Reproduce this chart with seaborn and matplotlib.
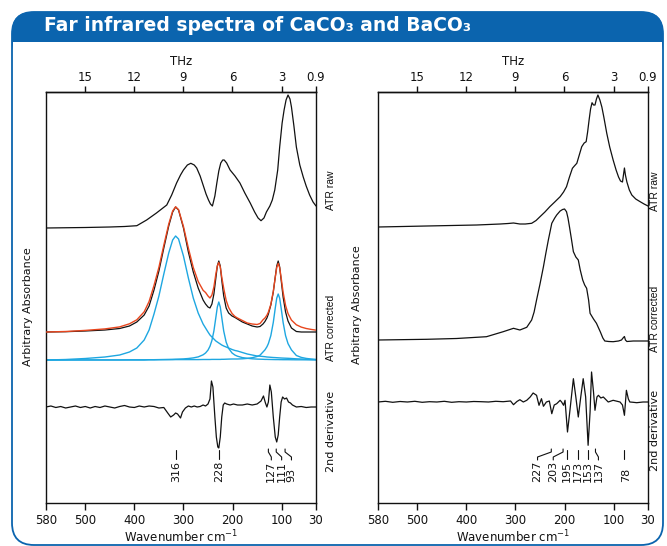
import numpy as np
import matplotlib
matplotlib.use("Agg")
import matplotlib.pyplot as plt
from matplotlib.patches import FancyBboxPatch, Rectangle
import seaborn as sns

# ------------------------------------------------------------------
# Data (heights in arbitrary absorbance units)
# ------------------------------------------------------------------
WN_TICKS = [580, 500, 400, 300, 200, 100, 30]
THZ_TICKS = [15, 12, 9, 6, 3, 0.9]
THZ_LABELS = ["15", "12", "9", "6", "3", "0.9"]

# CaCO3 -- ATR raw
wn_raw_ca = [580, 500, 450, 420, 395, 375, 355, 334, 324, 314, 306, 300, 292, 285, 278, 273, 266, 260, 254, 249,
             245, 241, 236, 232, 228, 224, 220, 217, 212, 205, 195, 185, 175, 164, 155, 148, 142, 136, 131, 124,
             119, 114, 108, 104, 99, 95, 91, 87, 83, 80, 75, 70, 63, 56, 50, 43, 36, 30]
raw_ca = [0, 0.5, 1, 1.5, 2.3, 8, 15, 23, 33, 45, 53, 58, 63, 64.7, 63, 60, 52, 43, 34, 28,
          24, 22, 32, 45, 57, 65, 68, 68, 65, 58, 52, 45, 35, 25, 16, 10, 7.3, 10, 16, 22,
          28, 38, 58, 81, 105, 118, 128, 133, 129, 121, 102, 81, 63, 51, 42, 33, 26, 22]

# CaCO3 -- ATR corrected, fit and fitted components
wn_cor_ca = [580, 540, 500, 460, 430, 410, 395, 380, 370, 360, 350, 340, 330, 322, 316, 310, 300, 290, 280, 270,
             260, 255, 250, 246, 242, 238, 234, 231, 228, 225, 222, 218, 213, 208, 201, 195, 190, 180, 170, 160,
             150, 144, 138, 134, 130, 127, 122, 117, 113, 110, 107, 104, 101, 97, 92, 87, 80, 70, 60, 50,
             40, 30]
cor_ca = [0, 0.3, 1, 2, 3.5, 6, 10, 17, 26, 42, 61, 84, 106, 120, 125, 122, 104, 80, 60, 44,
          32, 28, 25, 24, 28, 38, 54, 66, 71, 66, 52, 36, 24, 19, 16, 14.5, 13, 10, 8, 6,
          5, 5.5, 8, 10.5, 14, 18, 27, 40, 55, 66, 71, 65, 52, 35, 20, 11, 4, 0.5, 0, 0,
          0, 0]
fit_ca = [0, 0.5, 1.6, 3.1, 5.1, 8.2, 12.2, 20.2, 30.5, 46.5, 64.7, 86.8, 107.9, 121, 125.2, 122.3, 105.5, 83.9, 64.5, 50.5,
          41.7, 39.5, 36, 34, 37, 45, 58, 66, 69.5, 65, 55, 43.7, 31.6, 24.5, 18.5, 15.5, 14, 11.5, 9, 8,
          7.5, 8.5, 12.2, 14, 16.8, 19.9, 27.6, 40.6, 54.7, 64.5, 68.6, 64.3, 54.2, 39.8, 26.5, 18.4, 11.9, 7.2, 4.9, 3.5,
          2.6, 1.85]
comp316 = [0, 0.5, 1.5, 3, 5, 8, 12, 20, 30, 46, 64, 86, 107, 120, 124, 121, 104, 82, 62, 47,
           36, 32, 28, 25, 23, 21, 19, 18, 17, 16, 15, 14, 13, 12, 10.5, 9.5, 9, 7.5, 6, 5,
           4, 3.8, 3.5, 3.3, 3, 2.9, 2.7, 2.5, 2.4, 2.3, 2.2, 2.1, 2, 1.9, 1.8, 1.7, 1.5, 1.2, 1, 0.7,
           0.5, 0.3]
comp228 = [0, 0, 0, 0, 0, 0, 0, 0, 0.3, 0.3, 0.4, 0.5, 0.6, 0.7, 0.8, 0.9, 1.1, 1.5, 2.1, 3.1,
           5.2, 7.0, 9.9, 13.7, 19.6, 29, 42.6, 53, 58, 53, 42.6, 29, 17.8, 11.6, 7.0, 4.9, 3.8, 2.4, 1.7, 1.2,
           0.9, 0.8, 0.7, 0.6, 0.6, 0.55, 0.5, 0.45, 0.4, 0.4, 0.4, 0.35, 0.35, 0.3, 0.3, 0.3, 0.25, 0.2, 0.2, 0.15,
           0.15, 0.1]
comp107 = [0, 0.05, 0.1, 0.1, 0.1, 0.2, 0.2, 0.2, 0.2, 0.2, 0.3, 0.3, 0.3, 0.3, 0.4, 0.4, 0.4, 0.4, 0.4, 0.4,
           0.5, 0.5, 0.5, 0.5, 0.6, 0.6, 0.6, 0.6, 0.6, 0.6, 0.7, 0.7, 0.8, 0.9, 1.0, 1.0, 1.0, 1.2, 1.6, 2.3,
           3.5, 4.8, 8.0, 10.1, 13.2, 16.4, 24.4, 37.6, 51.9, 61.8, 66, 61.8, 51.9, 37.6, 24.4, 16.4, 10.1, 4.5, 2.6, 1.6,
           1.0, 0.6]

# CaCO3 -- 2nd derivative
wn_der_ca = [580, 570, 560, 550, 540, 530, 520, 510, 500, 490, 480, 470, 460, 450, 440, 430, 420, 410, 400, 390,
             380, 370, 360, 350, 340, 332, 326, 320, 316, 312, 306, 302, 296, 290, 284, 278, 272, 266, 260, 255,
             250, 246, 243, 240, 236, 233, 230, 228, 225, 222, 219, 216, 212, 205, 198, 190, 180, 170, 160, 150,
             142, 137, 133, 130, 127, 124, 121, 117, 113, 110, 107, 104, 101, 98, 94, 90, 86, 82, 78, 74,
             70, 60, 50, 40, 30]
der_ca = [0, 1, -0.5, 0.5, -1, 0, 1, -0.5, 0.5, -1, 0.5, -0.5, 1, 0, -1, 0.5, 1.5, 0, -0.5, 1,
          0, 1, 0.5, -1, -0.5, -6, -10, -8, -6, -7, -11, -5, -1, 1, 0, 1, 0, 0.5, 2, 1,
          3, 8, 26, 20, -10, -30, -40, -41, -30, -10, 2, 4, 3, 2, 3, 2, 2, 3, 2, 3,
          6, 11, 4, 0, 5, 22, 15, -10, -30, -35, -28, -10, 5, 10, 8, 9, 5, 4, 2, 1,
          0, 0.5, -0.5, 0, 0]
peaks_ca = [316, 228, 127, 111, 93]

# BaCO3 -- ATR raw
wn_raw_ba = [580, 530, 481, 430, 379, 331, 315, 304, 291, 280, 267, 258, 250, 240, 230, 220, 209, 202, 196, 190,
             184, 180, 175, 170, 165, 160, 156, 153, 150, 147, 144, 141, 138, 135, 132, 128, 124, 120, 114, 108,
             101, 95, 90, 86, 82, 80, 78, 76, 73, 68, 63, 55, 46, 38, 30]
raw_ba = [0, 0.5, 1, 1.5, 2, 3, 3.5, 4, 3, 3, 3.7, 6.5, 10.3, 15, 20.3, 25, 30.3, 35, 40.3, 50,
          58.7, 61, 63.7, 72, 80.3, 84, 85.3, 95, 107, 118, 124.3, 122, 122, 128, 132, 127, 120, 110, 93.7, 80,
          67, 57, 50, 46, 45, 52, 59, 52, 45, 37, 32, 28, 25.3, 23, 21]

# BaCO3 -- ATR corrected
wn_cor_ba = [580, 481, 420, 359, 325, 304, 291, 277, 267, 262, 257, 250, 243, 238, 233, 226, 220, 216, 209, 204,
             200, 196, 193, 190, 186, 182, 177, 172, 168, 163, 159, 155, 151, 148, 141, 135, 127, 122, 118, 110,
             101, 90, 84, 80, 78, 76, 73, 60, 45, 30]
cor_ba = [0, 0.7, 1.5, 3.3, 8.3, 11.7, 10, 12.7, 20, 28, 40, 56, 73.3, 87, 100, 116.7, 122, 125, 129, 130.5,
          131, 128.3, 122, 113.3, 101, 88.3, 83, 80, 70, 60, 55, 51.7, 40, 26.7, 21, 16.7, 8, 2, -1, -1.5,
          -1.7, -1, 0, 2.5, 3.5, 0, -1.5, -1, -1, -1]

# BaCO3 -- 2nd derivative
wn_der_ba = [580, 565, 550, 535, 520, 505, 490, 475, 460, 445, 430, 415, 400, 385, 370, 355, 340, 325, 310, 304,
             297, 291, 284, 277, 270, 264, 257, 252, 247, 243, 237, 231, 226, 221, 216, 209, 206, 202, 199, 194,
             189, 182, 177, 172, 167, 162, 157, 152, 148, 145, 141, 138, 134, 131, 126, 121, 111, 101, 87, 82,
             78, 74, 70, 67, 60, 53, 40, 30]
der_ba = [0, 0.7, -0.3, 0.5, 0, 0.7, -0.3, 0.3, 0, 0.7, -0.3, 0.3, 0, 0.5, 0.3, 0, 0.7, 0.3, 1, -2.7,
          0.5, 2.3, 0, 1.7, 5, 9, 6.7, -3.3, 3.3, -4.3, 0, 1, -11.7, -3, -1.7, 1.7, 0, -3.3, 1.7, -30,
          -8.3, 23.3, 5, -15, 5, 23.3, 5, -43.3, -10, 30, 10, -8.3, 5, 6.7, 4, 5, 0, 1.7, 0, -3,
          -13.3, 11.7, 3, 0, -0.3, -0.7, 0, 0]
peaks_ba = [227, 203, 195, 173, 153, 137, 78]

# ------------------------------------------------------------------
# Layout / style
# ------------------------------------------------------------------
W, H = 667, 546
BLUE = "#0b64ae"
FIT_RED = "#e8461e"
COMP_BLUE = "#1ea7e1"
INK = "#111111"
CM_PER_THZ = 33.356

sns.set_theme(style="white")
plt.rcParams["font.family"] = ["DejaVu Sans"]
plt.rcParams["axes.edgecolor"] = INK
plt.rcParams["text.color"] = INK
plt.rcParams["xtick.color"] = INK
plt.rcParams["axes.labelcolor"] = INK

fig = plt.figure(figsize=(W / 100, H / 100), dpi=100)

# background: frame + title banner, drawn in pixel coordinates
bg = fig.add_axes([0, 0, 1, 1], zorder=-1)
bg.set_xlim(0, W)
bg.set_ylim(H, 0)
bg.axis("off")
bg.add_patch(FancyBboxPatch((12, 12), 651, 50, boxstyle="round,pad=0,rounding_size=20",
                            fc=BLUE, ec="none", zorder=1))
bg.add_patch(Rectangle((13, 42), 649, 30, fc="white", ec="none", zorder=2))
bg.add_patch(FancyBboxPatch((12, 12), 651, 533, boxstyle="round,pad=0,rounding_size=22",
                            fc="none", ec=BLUE, lw=1.3, zorder=3))
bg.text(44, 31, "Far infrared spectra of CaCO₃ and BaCO₃", color="white", fontsize=13.5,
        fontweight="bold", va="baseline", ha="left", family=["DejaVu Sans"])


def pix_axes(x0, x1, y0, y1):
    return fig.add_axes([x0 / W, 1 - y1 / H, (x1 - x0) / W, (y1 - y0) / H])


def setup(ax):
    ax.set_xlim(580, 30)
    ax.set_ylim(0, 411)
    ax.set_xticks(WN_TICKS)
    ax.set_xticklabels([str(t) for t in WN_TICKS])
    ax.set_yticks([])
    ax.tick_params(axis="x", bottom=True, direction="out", length=5, width=1,
                   labelsize=8.5, pad=3)
    for s in ax.spines.values():
        s.set_linewidth(1)
        s.set_color(INK)
    ax.set_xlabel("Wavenumber cm$^{-1}$", fontsize=8.5, labelpad=1)
    ax.set_ylabel("")
    sec = ax.secondary_xaxis("top", functions=(lambda w: w / CM_PER_THZ, lambda t: t * CM_PER_THZ))
    sec.set_xticks(THZ_TICKS)
    sec.set_xticklabels(THZ_LABELS)
    sec.tick_params(axis="x", top=True, direction="out", length=4, width=1, labelsize=8.5, pad=2)
    sec.spines["top"].set_linewidth(1)
    sec.set_xlabel("THz", fontsize=8.5, labelpad=4)


def line(ax, x, y, offset, color=INK, lw=0.9, z=3):
    sns.lineplot(x=x, y=offset + np.asarray(y, dtype=float), ax=ax, color=color, linewidth=lw,
                 sort=False, estimator=None, legend=False, zorder=z)


def peak_labels(ax, peaks, text_wn):
    for pk, tx in zip(peaks, text_wn):
        ax.text(tx, 21, str(pk), rotation=90, ha="center", va="bottom", fontsize=8, color=INK)
        if abs(tx - pk) < 5:
            ax.plot([pk, pk], [44, 53], color=INK, lw=0.8)
        else:
            ax.plot([tx, tx, pk, pk], [43, 46, 51, 54], color=INK, lw=0.8)


# ------------------------------------------------------------------
# CaCO3 panel
# ------------------------------------------------------------------
ax1 = pix_axes(46, 316, 92, 503)
setup(ax1)
line(ax1, wn_raw_ca, raw_ca, 275)
for comp in (comp316, comp228, comp107):
    line(ax1, wn_cor_ca, comp, 143, color=COMP_BLUE, lw=1.0, z=2)
line(ax1, wn_cor_ca, cor_ca, 171)
line(ax1, wn_cor_ca, fit_ca, 171, color=FIT_RED, lw=1.0, z=4)
line(ax1, wn_der_ca, der_ca, 96)
peak_labels(ax1, peaks_ca, [315, 227, 121, 100, 80])

# ------------------------------------------------------------------
# BaCO3 panel
# ------------------------------------------------------------------
ax2 = pix_axes(378, 648, 92, 503)
setup(ax2)
line(ax2, wn_raw_ba, raw_ba, 276)
line(ax2, wn_cor_ba, cor_ba, 163)
line(ax2, wn_der_ba, der_ba, 101)
peak_labels(ax2, peaks_ba, [255, 223, 196, 172, 152, 131, 75])

# side annotations (pixel coords)
side = dict(rotation=90, ha="center", va="center", color=INK)
for xs, ys in ((331, (190, 328, 431)), (655, (191, 319, 430))):
    bg.text(xs, ys[0], "ATR raw", fontsize=7.5, family=["Liberation Sans", "DejaVu Sans"], **side)
    bg.text(xs, ys[1], "ATR corrected", fontsize=7.5, family=["Liberation Sans", "DejaVu Sans"], **side)
    bg.text(xs, ys[2], "2nd derivative", fontsize=8, **side)
bg.text(28, 307, "Arbitrary Absorbance", fontsize=8, **side)
bg.text(357, 305, "Arbitrary Absorbance", fontsize=8, **side)

fig.savefig("out.png", dpi=100)
